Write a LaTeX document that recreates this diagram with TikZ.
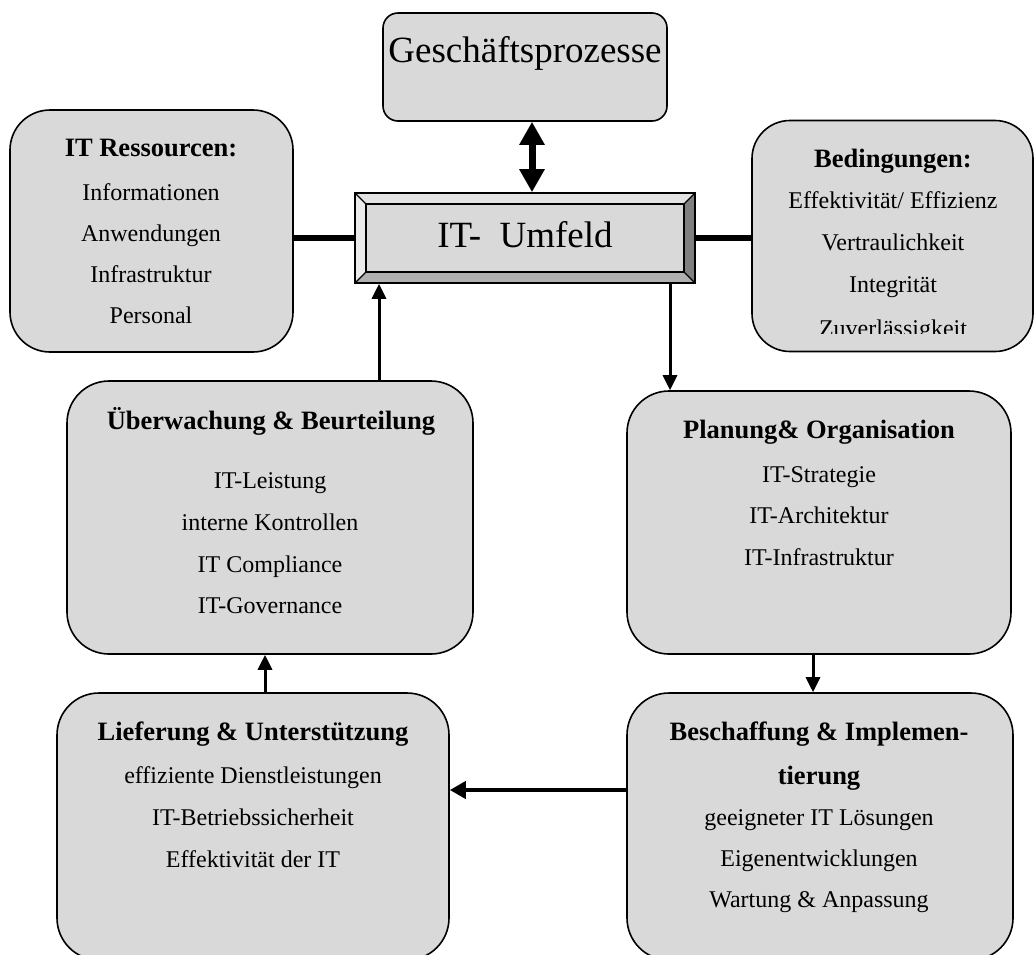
\documentclass[tikz,border=0pt]{standalone}
\usepackage{fontspec}
\setmainfont{Liberation Serif}
\usetikzlibrary{arrows.meta}
\definecolor{boxgray}{gray}{0.85}
\definecolor{bevtop}{gray}{0.89}
\definecolor{bevleft}{gray}{0.92}
\definecolor{bevright}{gray}{0.50}
\definecolor{bevbottom}{gray}{0.69}
\tikzset{
  rbox/.style={draw=black, line width=1.6pt, fill=boxgray, inner sep=0pt, rounded corners=42pt},
  bd/.style={font=\fontsize{24}{28}\selectfont, anchor=base, inner sep=0pt},
  hd/.style={font=\bfseries\fontsize{26.5}{30}\selectfont, anchor=base, inner sep=0pt},
  big/.style={font=\fontsize{37}{42}\selectfont, anchor=base, inner sep=0pt},
  conn/.style={line width=3pt, -{Triangle[length=15pt,width=14pt]}},
  thickline/.style={line width=5.5pt},
  dbl/.style={line width=7pt, {Triangle[length=23pt,width=24pt]}-{Triangle[length=23pt,width=24pt]}}
}
\begin{document}
\begin{tikzpicture}[x=1pt,y=-1pt]
\useasboundingbox (0,0) rectangle (1035,954);

% boxes
\node[rbox, rounded corners=15pt, minimum width=284pt, minimum height=108pt] (gp) at (525,67) {};
\node[rbox, rounded corners=40pt, minimum width=283pt, minimum height=242pt] (res) at (151.5,231) {};
\node[rbox, rounded corners=38pt, minimum width=281pt, minimum height=231pt] (bed) at (892.5,236) {};
\node[rbox, minimum width=406pt, minimum height=273pt] (ueb) at (270,517.5) {};
\node[rbox, minimum width=384pt, minimum height=263pt] (plan) at (819,522.5) {};
\node[rbox, minimum width=392pt, minimum height=267pt] (lief) at (253,826.5) {};
\node[rbox, minimum width=386pt, minimum height=267pt] (besch) at (820,826.5) {};

% IT-Umfeld bevel box
\node[draw=black, line width=1.6pt, fill=boxgray, inner sep=0pt, minimum width=340pt, minimum height=90pt] (umf) at (525,238) {};
\fill[bevtop] (355,193) -- (695,193) -- (684,204) -- (366,204) -- cycle;
\fill[bevleft] (355,193) -- (366,204) -- (366,272) -- (355,283) -- cycle;
\fill[bevright] (695,193) -- (695,283) -- (684,272) -- (684,204) -- cycle;
\fill[bevbottom] (355,283) -- (366,272) -- (684,272) -- (695,283) -- cycle;
\draw[line width=1.6pt] (355,193) rectangle (695,283);
\draw[line width=1.6pt] (366,204) rectangle (684,272);
\draw[line width=1.2pt] (355,193) -- (366,204) (695,193) -- (684,204) (355,283) -- (366,272) (695,283) -- (684,272);

% texts
\node[big] (gpt) at (525,62) {Geschäftsprozesse};
\node[big] (umft) at (525,247) {IT-\ \ Umfeld};

\node[hd] (resh) at (151,156) {IT Ressourcen:};
\node[bd] (res1) at (151,200) {Informationen};
\node[bd] (res2) at (151,241) {Anwendungen};
\node[bd] (res3) at (151,282) {Infrastruktur};
\node[bd] (res4) at (151,323) {Personal};

\node[hd] (bedh) at (893,167) {Bedingungen:};
\node[bd] (bed1) at (893,208) {Effektivität/ Effizienz};
\node[bd] (bed2) at (893,250) {Vertraulichkeit};
\node[bd] (bed3) at (893,292) {Integrität};
\begin{scope}
\clip (753,300) rectangle (1032,333);
\node[bd] (bed4) at (893,336) {Zuverlässigkeit};
\end{scope}

\node[hd] (uebh) at (271,429) {Überwachung \& Beurteilung};
\node[bd] (ueb1) at (270,488) {IT-Leistung};
\node[bd] (ueb2) at (270,530) {interne Kontrollen};
\node[bd] (ueb3) at (270,572) {IT Compliance};
\node[bd] (ueb4) at (270,613) {IT-Governance};

\node[hd] (planh) at (819,438) {Planung\& Organisation};
\node[bd] (plan1) at (819,482) {IT-Strategie};
\node[bd] (plan2) at (819,523) {IT-Architektur};
\node[bd] (plan3) at (819,565) {IT-Infrastruktur};

\node[hd] (liefh) at (253,740) {Lieferung \& Unterstützung};
\node[bd] (lief1) at (253,783) {effiziente Dienstleistungen};
\node[bd] (lief2) at (253,825) {IT-Betriebssicherheit};
\node[bd] (lief3) at (253,867) {Effektivität der IT};

\node[hd] (beschh) at (819,740) {Beschaffung \& Implemen-};
\node[hd] (beschh2) at (819,784) {tierung};
\node[bd] (besch1) at (819,825) {geeigneter IT Lösungen};
\node[bd] (besch2) at (819,866) {Eigenentwicklungen};
\node[bd] (besch3) at (819,907) {Wartung \& Anpassung};

% connector columns / rows
\coordinate (xd) at (532,0);
\coordinate (xup) at (379,0);
\coordinate (xdown) at (670,0);
\coordinate (xpb) at (813,0);
\coordinate (xlu) at (265,0);
\coordinate (ymid) at (0,238);
\coordinate (yarr) at (0,790);

% connectors
\draw[dbl] (gp.south -| xd) -- (umf.north -| xd);
\draw[thickline] (res.east |- ymid) -- (umf.west |- ymid);
\draw[thickline] (umf.east |- ymid) -- (bed.west |- ymid);
\draw[conn] (ueb.north -| xup) -- (umf.south -| xup);
\draw[conn] (umf.south -| xdown) -- (plan.north -| xdown);
\draw[conn] (plan.south -| xpb) -- (besch.north -| xpb);
\draw[conn] (lief.north -| xlu) -- (ueb.south -| xlu);
\draw[conn, line width=4pt, -{Triangle[length=16pt,width=17pt]}] (besch.west |- yarr) -- (lief.east |- yarr);
\end{tikzpicture}
\end{document}
